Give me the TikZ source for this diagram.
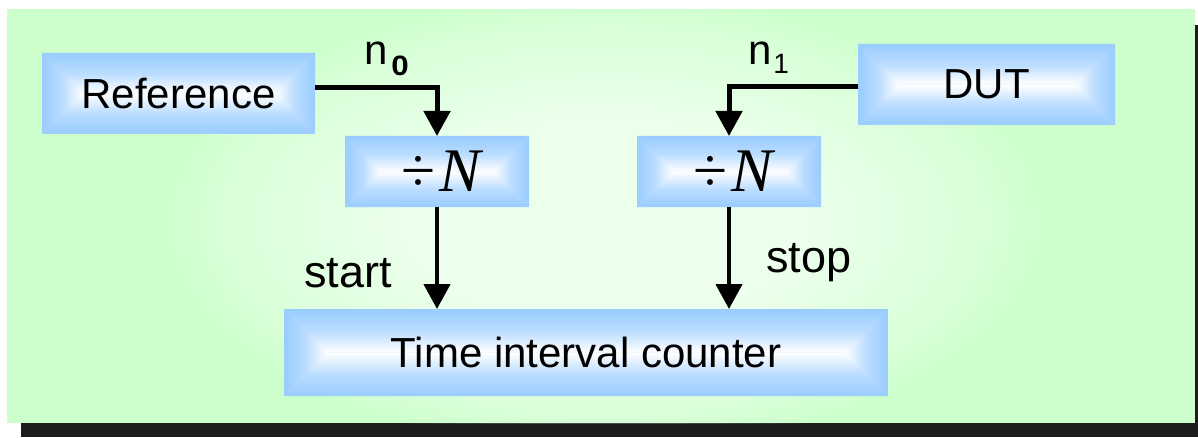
\documentclass[tikz,border=0pt]{standalone}
\usepackage{fontspec}
\setmainfont{Liberation Sans}
\newfontfamily\serifface{Liberation Serif}
\usetikzlibrary{arrows.meta,calc}

\definecolor{panelgreen}{HTML}{CCFFCC}
\definecolor{boxblue}{HTML}{99CCFF}
\definecolor{shadowgray}{HTML}{1C1C1C}

\tikzset{
  % block with a rectangular "from the centre" gradient: blue rim, white core
  gradbox/.style={rectangle, inner sep=0pt, outer sep=0pt,
    font=\fontsize{42}{48}\selectfont,
    path picture={
      \fill[boxblue!60!white] (path picture bounding box.south west)
        rectangle (path picture bounding box.north east);
      \path let \p1=(path picture bounding box.south west),
                \p2=(path picture bounding box.north east),
                \p3=(path picture bounding box.west),
                \n1={(\y2-\y1)/2} in
        coordinate (@a) at (\x1,\y1) coordinate (@b) at (\x2,\y1)
        coordinate (@c) at (\x2,\y2) coordinate (@d) at (\x1,\y2)
        coordinate (@l) at (\x1+\n1,\y3) coordinate (@r) at (\x2-\n1,\y3);
      \shade[top color=boxblue, bottom color=white, middle color=boxblue!68!white]
        (@d) -- (@c) -- (@r) -- (@l) -- cycle;
      \shade[top color=white, bottom color=boxblue, middle color=boxblue!68!white]
        (@a) -- (@b) -- (@r) -- (@l) -- cycle;
      \shade[left color=boxblue, right color=white, middle color=boxblue!68!white]
        (@a) -- (@d) -- (@l) -- cycle;
      \shade[left color=white, right color=boxblue, middle color=boxblue!68!white]
        (@b) -- (@c) -- (@r) -- cycle;
    }},
  divbox/.style={gradbox, minimum width=184pt, minimum height=71pt,
    font=\serifface\fontsize{62}{68}\selectfont},
  sig/.style={line width=5pt, -{Triangle[length=25pt,width=26pt]}},
  lowsig/.style={line width=4.5pt, -{Triangle[length=25pt,width=26pt]}},
  lbl/.style={inner sep=0pt, outer sep=0pt, font=\fontsize{42}{48}\selectfont},
  wordlbl/.style={inner sep=0pt, outer sep=0pt, font=\fontsize{45}{50}\selectfont},
}

\begin{document}
\begin{tikzpicture}[x=1pt, y=1pt]
  \useasboundingbox (0,0) rectangle (1198,437);

  % panel with drop shadow
  \fill[shadowgray] (21,0) rectangle (1198,412);
  \fill[panelgreen] (7,14) rectangle (1195,428);
  % soft white glow: stacked translucent ellipses
  \begin{scope}
    \clip (7,14) rectangle (1195,428);
    \foreach \i in {0,...,44}
      \fill[white, opacity=0.05] (605,215)
        ellipse ({440*(1-\i/46)} and {225*(1-\i/46)});
  \end{scope}

  % blocks
  \node[gradbox, minimum width=273pt, minimum height=81pt] (ref) at (178.5,343.5) {Reference};
  \node[gradbox, minimum width=257pt, minimum height=81pt] (dut) at (986.5,352.5) {DUT};
  \node[divbox] (divL) at (437,265.5) {\hspace{8pt}÷\hspace{4pt}\itshape N};
  \node[divbox] (divR) at (729,265.5) {\hspace{8pt}÷\hspace{4pt}\itshape N};
  \node[gradbox, minimum width=604pt, minimum height=87pt] (tic) at (586,84.5) {Time interval counter};

  % signal paths
  \draw[sig] ([yshift=6pt]ref.east) -| (divL.north);
  \draw[sig] ([yshift=-2.5pt]dut.west) -| (divR.north);
  \draw[lowsig] (divL.south) -- (divL.south |- tic.north);
  \draw[lowsig] (divR.south) -- (divR.south |- tic.north);

  % labels
  \node[lbl, anchor=base west] (n0) at (364,372)
    {n\hspace{4pt}\raisebox{-11pt}{\fontsize{28}{28}\selectfont\bfseries\scalebox{1.12}[1]{0}}};
  \node[lbl, anchor=base west] (n1) at (748,372)
    {n\hspace{2pt}\raisebox{-9pt}{\fontsize{28}{28}\selectfont 1}};
  \node[wordlbl, anchor=base west] (start) at (304,150) {start};
  \node[wordlbl, anchor=base west] (stop) at (766,165) {stop};
\end{tikzpicture}
\end{document}
